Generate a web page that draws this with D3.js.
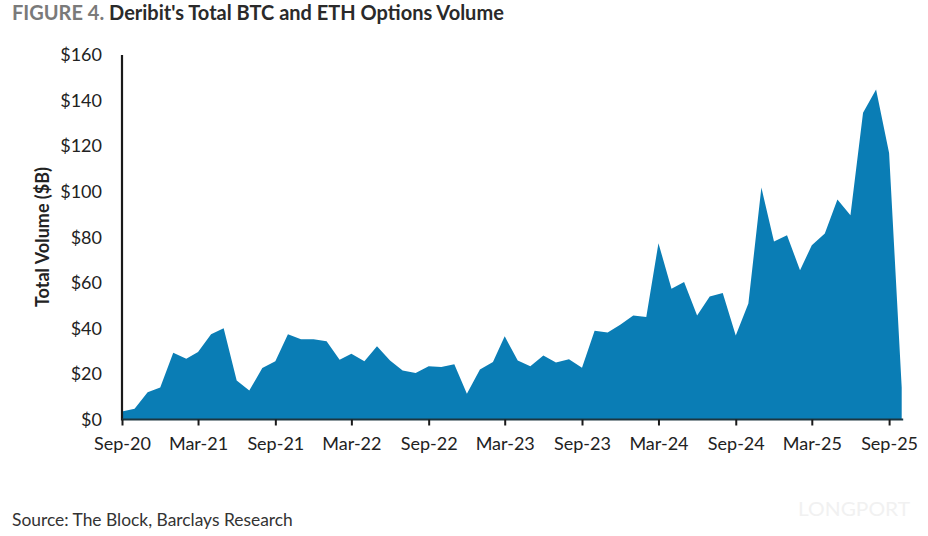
<!DOCTYPE html>
<html>
<head>
<meta charset="utf-8">
<script src="https://cdn.jsdelivr.net/npm/d3@7"></script>
<style>
  html, body { margin: 0; padding: 0; background: #fff; }
  svg { display: block; }
  text { font-family: Lato, "Open Sans", sans-serif; }
</style>
</head>
<body>
<svg id="chart" width="928" height="536"></svg>
<script>
// Monthly Deribit BTC + ETH options volume ($B), Sep-2020 .. Oct-2025
const startMonth = "2020-09";
const volumes = [
  3.5, 4.7, 12, 14, 29.3, 26.7, 29.6, 37.4, 40.1, 17.1, 12.7, 22.6,
  25.6, 37.4, 35.2, 35.2, 34.3, 26.2, 28.9, 25.6, 32.1, 25.9, 21.5, 20.4,
  23.4, 23.1, 24.2, 11.3, 22, 25.2, 36.5, 25.9, 23.4, 28.1, 25, 26.5,
  22.7, 39, 38.2, 41.6, 45.6, 45, 77.4, 57.4, 60.4, 45.7, 54, 55.5,
  36.9, 50.9, 101.8, 78.1, 80.9, 65.5, 76.5, 81.6, 96.6, 89.7, 134.6, 144.9,
  117, 14
];
const xTickLabels = ["Sep-20","Mar-21","Sep-21","Mar-22","Sep-22","Mar-23","Sep-23","Mar-24","Sep-24","Mar-25","Sep-25"];
const yTicks = [0, 20, 40, 60, 80, 100, 120, 140, 160];

const parseMonth = d3.timeParse("%Y-%m");
const start = parseMonth(startMonth);
const data = volumes.map((v, i) => ({ date: d3.timeMonth.offset(start, i), value: v }));
const tickDates = xTickLabels.map(s => d3.timeParse("%b-%y")(s));

const svg = d3.select("#chart");
const mLeft = 122, mRight = 901.7, mTop = 55, mBottom = 419.5;

const x = d3.scaleTime()
  .domain([data[0].date, data[data.length - 1].date])
  .range([mLeft, mRight]);
const y = d3.scaleLinear().domain([0, 160]).range([mBottom, mTop]);

// Area
const area = d3.area()
  .x(d => x(d.date))
  .y0(y(0))
  .y1(d => y(d.value));
svg.append("path")
  .datum(data)
  .attr("d", area)
  .attr("fill", "#0a7db5");

// Y axis
const yAxis = svg.append("g")
  .attr("transform", `translate(${mLeft},0)`)
  .call(d3.axisLeft(y).tickValues(yTicks).tickSize(0).tickPadding(20)
    .tickFormat(d => "$" + d));
yAxis.select(".domain").attr("stroke", "#1a1a1a").attr("stroke-width", 2.2)
  .attr("d", `M0,${mTop}V${mBottom + 1}`);
yAxis.selectAll("text")
  .attr("font-size", 18).attr("fill", "#222")
  .style("font-family", "Lato, 'Open Sans', sans-serif");

// X axis
const xAxis = svg.append("g")
  .attr("transform", `translate(0,${mBottom})`)
  .call(d3.axisBottom(x).tickValues(tickDates).tickSize(6).tickPadding(12)
    .tickFormat((d, i) => xTickLabels[i]));
xAxis.select(".domain").attr("stroke", "#1c3640").attr("stroke-width", 2.2)
  .attr("d", `M${mLeft},0H${mRight + 1.5}`);
xAxis.selectAll(".tick line").attr("stroke", "#1a1a1a").attr("stroke-width", 2);
xAxis.selectAll("text")
  .attr("font-size", 18).attr("fill", "#222")
  .style("font-family", "Lato, 'Open Sans', sans-serif");

// Y axis title
svg.append("text")
  .attr("transform", `translate(49,237) rotate(-90)`)
  .attr("text-anchor", "middle")
  .attr("font-size", 18)
  .attr("font-weight", "bold")
  .attr("fill", "#222")
  .text("Total Volume ($B)");

// Title
const title = svg.append("text")
  .attr("x", 12).attr("y", 20)
  .attr("font-size", 20)
  .attr("font-weight", "bold");
title.append("tspan").attr("fill", "#7a7a7a").text("FIGURE 4. ");
title.append("tspan").attr("fill", "#2a2a2a").text("Deribit's Total BTC and ETH Options Volume");

// Source
svg.append("text")
  .attr("x", 12).attr("y", 526)
  .attr("font-size", 17.4)
  .attr("fill", "#333")
  .text("Source: The Block, Barclays Research");

// Faint watermark
svg.append("text")
  .attr("x", 798).attr("y", 516)
  .attr("font-size", 19)
  .attr("fill", "#f1f1f1")
  .attr("textLength", 112)
  .attr("lengthAdjust", "spacingAndGlyphs")
  .text("LONGPORT");
</script>
</body>
</html>
